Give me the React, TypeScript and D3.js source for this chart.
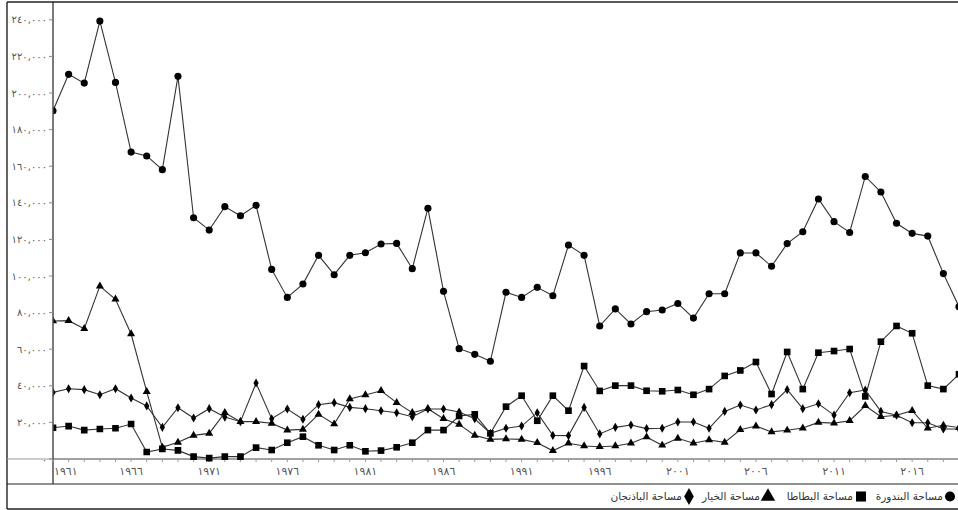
import React, { useEffect, useRef } from "react";
import * as d3 from "d3";

const years: number[] = d3.range(1961, 2020);

const tomato: number[] = [
  190300, 210200, 205400, 239300, 205800, 167700, 165600, 158100, 209100, 131800,
  125100, 137900, 132900, 138600, 103600, 88300, 95600, 111300, 100700, 111300,
  112700, 117500, 117800, 104000, 137000, 91600, 60300, 57200, 53400, 91100,
  88300, 93800, 89200, 116900, 111300, 72700, 82000, 73800, 80500, 81400,
  85000, 77000, 90300, 90300, 112600, 112600, 105300, 117700, 124200, 142100,
  129700, 123800, 154400, 145900, 128800, 123300, 121800, 101300, 83200,
];

const potato: number[] = [
  17100, 18000, 15800, 16400, 16800, 19100, 3800, 5500, 4700, 1300,
  500, 1300, 1300, 6200, 4900, 8900, 12200, 7500, 4900, 7500,
  4200, 4600, 6400, 8900, 15800, 15800, 23500, 24400, 14000, 28600,
  34600, 20900, 34600, 26400, 50800, 37200, 40100, 40100, 37300, 37000,
  37700, 35100, 38200, 45400, 48400, 53000, 35500, 58500, 38200, 58100,
  59000, 60100, 34200, 64100, 72700, 68700, 40100, 38200, 46300,
];

const cucumber: number[] = [
  75400, 75600, 71200, 94500, 87300, 68300, 36800, 6400, 9100, 12900,
  14000, 25300, 20400, 20400, 19500, 15800, 16200, 24400, 19100, 32800,
  35000, 37300, 30800, 25300, 27500, 22000, 18900, 12900, 10700, 11000,
  10700, 8900, 4500, 8600, 7100, 6700, 7100, 8600, 12000, 7500,
  11300, 8600, 10400, 9100, 16000, 18000, 14800, 15700, 16900, 20000,
  19600, 20900, 29100, 23100, 23900, 26400, 16800, 18400, 17100,
];

const eggplant: number[] = [
  36400, 38400, 37900, 35100, 38400, 33300, 29000, 17300, 28000, 22400,
  27500, 22900, 20400, 41500, 22000, 27300, 21700, 29700, 30800, 28200,
  27500, 26400, 25300, 23100, 27300, 27300, 25700, 22000, 14000, 16800,
  18000, 25300, 12900, 12800, 28200, 13700, 17300, 18600, 16600, 16800,
  20200, 20200, 16800, 26000, 29500, 26800, 29700, 37900, 27500, 30200,
  24000, 36200, 37700, 26000, 23900, 19800, 19800, 16400, 16400,
];

const seriesNames: string[] = ["مساحة البندورة", "مساحة البطاطا", "مساحة الخيار", "مساحة الباذنجان"];
const seriesSymbols = ["circle", "square", "triangle", "diamond"];
const seriesValues: number[][] = [tomato, potato, cucumber, eggplant];

const yTicks: number[] = [0, 20000, 40000, 60000, 80000, 100000, 120000, 140000, 160000, 180000, 200000, 220000, 240000];
const xTickYears: number[] = [1961, 1966, 1971, 1976, 1981, 1986, 1991, 1996, 2001, 2006, 2011, 2016];

const arabicDigits = "٠١٢٣٤٥٦٧٨٩";
const toArabic = (s: string) => s.replace(/[0-9]/g, (c) => arabicDigits[+c]);

const W = 958;
const H = 510;
const FONT = "'DejaVu Sans', sans-serif";

// legend layout: symbol centre x and text right edge for each item
const legendSymbolX = [950, 861, 768, 689];
const legendTextRight = [943, 853, 760, 682];

function symbolPath(kind: string, scale: number) {
  const map: Record<string, [d3.SymbolType, number]> = {
    circle: [d3.symbolCircle, 40],
    square: [d3.symbolSquare, 44],
    triangle: [d3.symbolTriangle, 28],
    diamond: [d3.symbolDiamond, 24],
  };
  const [t, s] = map[kind];
  return d3.symbol(t, s * scale)() as string;
}

export default function App() {
  const ref = useRef<SVGSVGElement | null>(null);

  useEffect(() => {
    const svg = d3.select(ref.current);
    svg.selectAll("*").remove();

    const left = 53;
    const right = 959;
    const axisY = 459;
    const top = 1.5;

    const x = d3.scaleLinear().domain([1961, 2019]).range([left, right]);
    const y = d3.scaleLinear().domain([0, 250000]).range([axisY, top]);

    const frame = svg.append("g").attr("fill", "none");
    frame.append("line").attr("x1", 7).attr("x2", W + 2).attr("y1", 2).attr("y2", 2).attr("stroke", "#222").attr("stroke-width", 1.4);
    frame.append("line").attr("x1", 7).attr("x2", 7).attr("y1", 2).attr("y2", 509).attr("stroke", "#222").attr("stroke-width", 1.4);
    frame.append("line").attr("x1", 7).attr("x2", W + 2).attr("y1", 509).attr("y2", 509).attr("stroke", "#222").attr("stroke-width", 1.4);
    frame.append("line").attr("x1", 7).attr("x2", W + 2).attr("y1", 484).attr("y2", 484).attr("stroke", "#222").attr("stroke-width", 1.2);
    frame.append("line").attr("x1", 7).attr("x2", left).attr("y1", axisY).attr("y2", axisY).attr("stroke", "#999").attr("stroke-width", 1);
    frame.append("line").attr("x1", left).attr("x2", W + 2).attr("y1", axisY).attr("y2", axisY).attr("stroke", "#444").attr("stroke-width", 1);
    frame.append("line").attr("x1", left).attr("x2", left).attr("y1", 2).attr("y2", 484).attr("stroke", "#222").attr("stroke-width", 1.2);

    const yg = svg.append("g");
    yTicks.forEach((v) => {
      yg.append("line").attr("x1", left - 4).attr("x2", left).attr("y1", y(v)).attr("y2", y(v)).attr("stroke", "#888");
      yg.append("text")
        .attr("x", left - 6)
        .attr("y", y(v))
        .attr("dy", "0.35em")
        .attr("text-anchor", "end")
        .attr("font-family", FONT)
        .attr("font-size", 10)
        .attr("fill", "#555")
        .text(toArabic(d3.format(",")(v)));
    });

    const xg = svg.append("g");
    years.forEach((yr) => {
      xg.append("line").attr("x1", x(yr)).attr("x2", x(yr)).attr("y1", axisY).attr("y2", axisY + 3).attr("stroke", "#999");
    });
    xTickYears.forEach((yr, i) => {
      xg.append("text")
        .attr("x", i === 0 ? x(yr) + 1 : x(yr))
        .attr("y", 471)
        .attr("dy", "0.35em")
        .attr("text-anchor", i === 0 ? "start" : "middle")
        .attr("font-family", FONT)
        .attr("font-size", 11)
        .attr("fill", "#555")
        .text(toArabic(String(yr)));
    });

    svg.append("defs").append("clipPath").attr("id", "plotclip")
      .append("rect").attr("x", left + 0.5).attr("y", 0).attr("width", W - left).attr("height", 466);

    const plot = svg.append("g").attr("clip-path", "url(#plotclip)");
    const line = d3.line<number>().x((_, i) => x(years[i])).y((v) => y(v));

    seriesValues.forEach((vals, si) => {
      plot.append("path").attr("d", line(vals) as string).attr("fill", "none").attr("stroke", "#333").attr("stroke-width", 1.1);
      const p = symbolPath(seriesSymbols[si], 1);
      plot.selectAll(null).data(vals).enter().append("path")
        .attr("d", p)
        .attr("transform", (v, i) => `translate(${x(years[i])},${y(v)})`)
        .attr("fill", "#000");
    });

    const lg = svg.append("g");
    seriesNames.forEach((name, i) => {
      const kind = seriesSymbols[i];
      lg.append("path")
        .attr("d", symbolPath(kind, kind === "circle" ? 2.0 : kind === "square" ? 2.3 : kind === "triangle" ? 3.2 : 3.4))
        .attr("transform", `translate(${legendSymbolX[i]},496.5)`)
        .attr("fill", "#000");
      lg.append("text")
        .attr("x", legendTextRight[i])
        .attr("y", 496.5)
        .attr("dy", "0.35em")
        .attr("text-anchor", "end")
        .attr("font-family", FONT)
        .attr("font-size", 10.5)
        .attr("fill", "#333")
        .text(name);
    });
  }, []);

  return (
    <svg ref={ref} width={W} height={H} style={{ position: "absolute", left: 0, top: 0, background: "#fff" }} />
  );
}
